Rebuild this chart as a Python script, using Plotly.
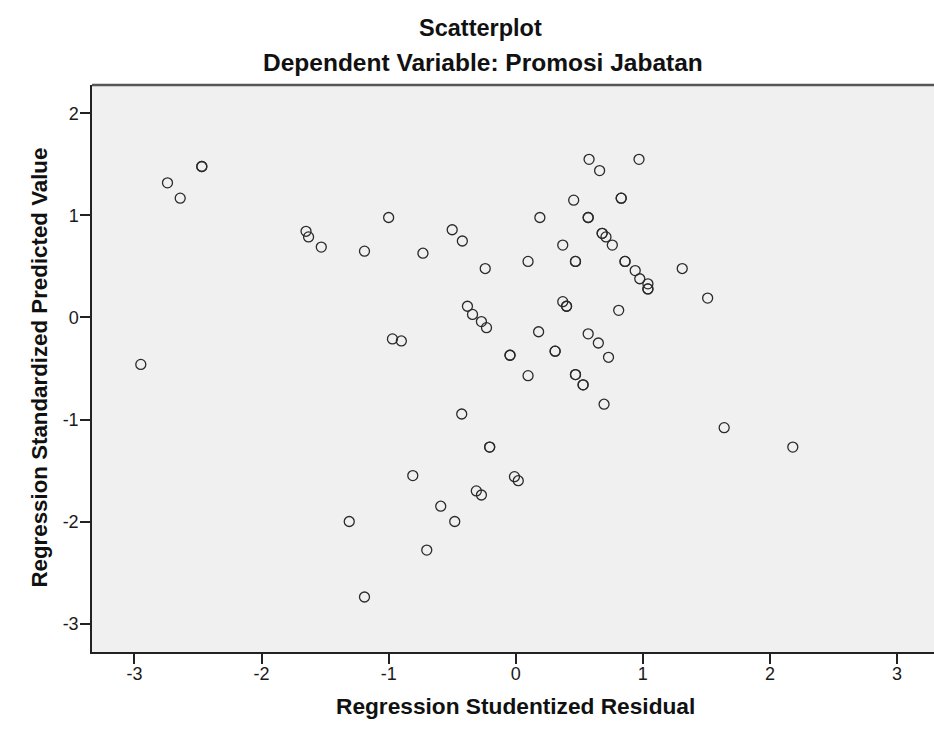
import plotly.graph_objects as go

# Regression Studentized Residual (x) and Regression Standardized Predicted Value (y)
residual = [
    -2.95, -2.74, -2.64, -2.47, -2.47, -1.65, -1.63, -1.53, -1.19, -1.00,
    -0.73, -0.50, -0.42, -0.24, -0.38, -0.34, -0.27, -0.23, -0.97, -0.90,
    -0.045, -0.045, 0.577, 0.97, 0.66, 0.456, 0.83, 0.83, 0.19, 0.57,
    0.57, 0.68, 0.68, 0.71, 0.76, 0.37, 0.097, 0.47, 0.47, 0.86,
    0.86, 0.94, 0.976, 1.04, 1.04, 1.04, 1.31, 1.51, 0.37, 0.40,
    0.40, 0.81, 0.18, 0.57, 0.65, 0.73, 0.31, 0.31, 0.097, 0.47,
    0.47, 0.53, 0.53, 0.695, 1.64, 2.18, -0.01, 0.02, -0.425, -0.205,
    -0.205, -0.81, -0.31, -0.27, -0.59, -1.31, -0.48, -0.70, -1.19,
]
predicted = [
    -0.46, 1.32, 1.17, 1.48, 1.48, 0.845, 0.79, 0.69, 0.65, 0.98,
    0.63, 0.86, 0.75, 0.48, 0.11, 0.03, -0.04, -0.10, -0.21, -0.23,
    -0.37, -0.37, 1.55, 1.55, 1.44, 1.15, 1.17, 1.17, 0.98, 0.98,
    0.98, 0.825, 0.825, 0.79, 0.71, 0.71, 0.55, 0.55, 0.55, 0.55,
    0.55, 0.46, 0.38, 0.33, 0.28, 0.28, 0.48, 0.19, 0.155, 0.11,
    0.11, 0.07, -0.14, -0.16, -0.25, -0.39, -0.33, -0.33, -0.57, -0.56,
    -0.56, -0.66, -0.66, -0.85, -1.08, -1.27, -1.56, -1.60, -0.946, -1.27,
    -1.27, -1.55, -1.70, -1.74, -1.85, -2.00, -2.00, -2.28, -2.74,
]
x_ticks = [-3, -2, -1, 0, 1, 2, 3]
y_ticks = [-3, -2, -1, 0, 1, 2]

W, H = 934, 738
L, R, T, B = 92, 0, 85, 86
pw, ph = W - L - R, H - T - B

def px_x(X):
    return (X - L) / pw

def px_y(Y):
    return (H - B - Y) / ph

FONT = "Liberation Sans, Arial, sans-serif"

fig = go.Figure()
fig.add_trace(go.Scatter(
    x=residual, y=predicted, mode="markers",
    marker=dict(symbol="circle-open", size=10, color="#2a2a2a",
                line=dict(width=1.3, color="#2a2a2a")),
    hoverinfo="x+y", showlegend=False,
))

fig.update_layout(
    width=W, height=H,
    margin=dict(l=L, r=R, t=T, b=B, pad=0),
    paper_bgcolor="white",
    plot_bgcolor="#f0f0f0",
    font=dict(family=FONT, color="#1a1a1a"),
    xaxis=dict(
        range=[-3.334, 3.291], tickvals=x_ticks, ticktext=[str(v) for v in x_ticks],
        ticks="outside", ticklen=10, tickwidth=1.5, tickcolor="#222",
        showline=True, linecolor="#222", linewidth=1.5, mirror=False,
        showgrid=False, zeroline=False, ticklabelstandoff=-5,
        tickfont=dict(size=18, family=FONT, color="#1a1a1a"),
    ),
    yaxis=dict(
        range=[-3.279, 2.279], tickvals=y_ticks, ticktext=[str(v) for v in y_ticks],
        ticks="outside", ticklen=10, tickwidth=1.5, tickcolor="#222",
        showline=True, linecolor="#222", linewidth=1.5, mirror=False,
        showgrid=False, zeroline=False, ticklabelstandoff=-2,
        tickfont=dict(size=18, family=FONT, color="#1a1a1a"),
    ),
    shapes=[dict(type="line", xref="paper", yref="paper", x0=0, x1=1, y0=1, y1=1,
                 line=dict(color="#555", width=2.5))],
    annotations=[
        dict(text="<b>Scatterplot</b>", x=px_x(480), y=px_y(27.5), xref="paper", yref="paper",
             xanchor="center", yanchor="middle", showarrow=False,
             font=dict(size=23.5, family=FONT, color="#111")),
        dict(text="<b>Dependent Variable: Promosi Jabatan</b>", x=px_x(483), y=px_y(62.5),
             xref="paper", yref="paper", xanchor="center", yanchor="middle", showarrow=False,
             font=dict(size=24.5, family=FONT, color="#111")),
        dict(text="<b>Regression Studentized Residual</b>", x=px_x(515.5), y=px_y(706),
             xref="paper", yref="paper", xanchor="center", yanchor="middle", showarrow=False,
             font=dict(size=22.7, family=FONT, color="#111")),
        dict(text="<b>Regression Standardized Predicted Value</b>", x=px_x(39), y=px_y(367.5),
             xref="paper", yref="paper", xanchor="center", yanchor="middle", showarrow=False,
             textangle=-90, font=dict(size=22.3, family=FONT, color="#111")),
    ],
)

fig.write_html("out.html", config={"displayModeBar": False},
               post_script="document.body.style.margin='0px';document.body.style.overflow='hidden';")
